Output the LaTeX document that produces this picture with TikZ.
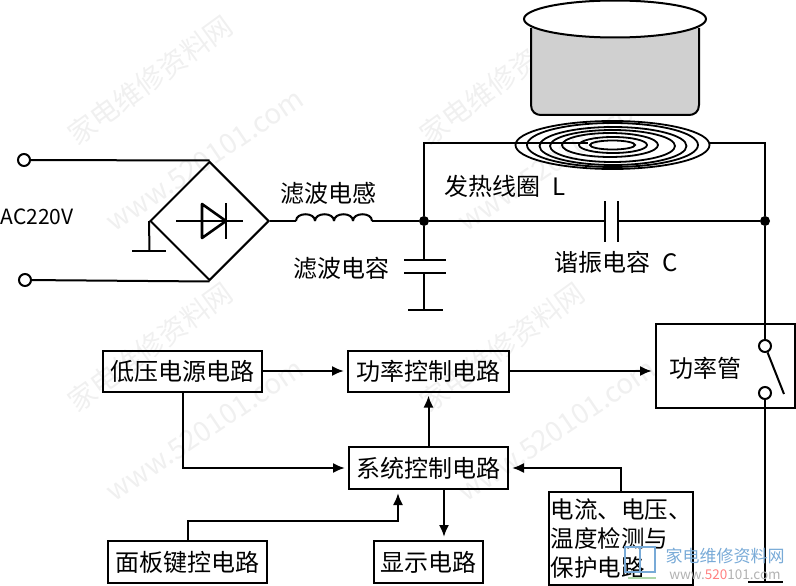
\documentclass[tikz,border=0pt]{standalone}
\usepackage{fontspec}
\setmainfont{Noto Sans CJK SC}
\usetikzlibrary{arrows.meta,shapes.geometric}

\definecolor{potgray}{RGB}{208,208,208}
\definecolor{markgray}{RGB}{240,240,240}
\definecolor{logoblue}{RGB}{120,170,215}
\definecolor{logogreen}{RGB}{175,215,170}

\tikzset{
    wire/.style={line width=2pt, line join=miter},
    flow/.style={wire, -{Latex[length=12pt,width=10pt]}, shorten >=3pt},
    blockbox/.style={draw, line width=2pt, inner sep=0pt, font=\blocktext},
    term/.style={circle, draw, line width=2pt, fill=white, inner sep=0pt, minimum size=12pt},
    dot/.style={circle, fill=black, inner sep=0pt, minimum size=10pt},
    lbl/.style={inner sep=0pt, font=\blocktext}
}
\newcommand{\blocktext}{\fontsize{24}{29}\selectfont}

\begin{document}
\begin{tikzpicture}[x=1pt, y=-1pt]
\useasboundingbox (0,0) rectangle (796,586);

% faint site marks behind the drawing
\foreach \c in {0,1} {
    \foreach \r in {0,1} {
        \node[rotate=36, text=markgray, inner sep=0pt, font=\fontsize{28}{28}\selectfont] (markcn\c\r) at ({150+352*\c},{80+267*\r}) {家电维修资料网};
        \node[rotate=34, text=markgray, inner sep=0pt, font=\fontsize{28}{28}\selectfont] (markweb\c\r) at ({205+352*\c},{160+270*\r}) {www.520101.com};
    }
}

% pot
\fill[potgray] (531,28) -- (531,105) .. controls (531,112) and (536,115) .. (541,115)
    -- (689,115) .. controls (694,115) and (699,112) .. (699,105) -- (699,28) -- cycle;
\draw[wire] (531,28) -- (531,105) .. controls (531,112) and (536,115) .. (541,115)
    -- (689,115) .. controls (694,115) and (699,112) .. (699,105) -- (699,28);
\draw[wire, fill=white] (615,19) ellipse [x radius=91, y radius=18.5];

% heating coil
\coordinate (coilin) at (588,143);
\coordinate (coilout) at (710,143);
\draw[line width=1.8pt] (612.5,145) ellipse [x radius=97, y radius=24];
\draw[line width=1.8pt] (612.5,145) ellipse [x radius=85.5, y radius=22];
\draw[line width=1.8pt] (613,146) ellipse [x radius=73.5, y radius=19];
\draw[line width=1.8pt] (612.5,146) ellipse [x radius=62.5, y radius=16];
\draw[line width=1.8pt] (610,145) ellipse [x radius=48, y radius=12];
\draw[line width=1.8pt] (613,145) ellipse [x radius=34, y radius=8];
\draw[line width=1.8pt] (612.5,145) ellipse [x radius=22.5, y radius=4.5];

% mains and bridge
\node[term] (acup) at (24,160) {};
\node[term] (acdown) at (25,280) {};
\node[lbl, font=\fontsize{21}{21}\selectfont] (aclabel) at (37,217) {AC220V};
\node[diamond, draw, line width=2pt, inner sep=0pt, minimum width=119pt, minimum height=119pt, aspect=1] (bridge) at (209.5,221) {};
\draw[wire] (acup) -- (bridge.north);
\draw[wire] (acdown) -- (bridge.south);

% diode inside the bridge
\coordinate (diodein) at (176,221);
\coordinate (diodeout) at (243,221);
\draw[line width=2.6pt] (diodein) -- (diodeout);
\draw[line width=2.6pt, line join=round] (202,204) -- (226,221) -- (202,238) -- cycle;
\draw[line width=2.6pt] (226,203) -- (226,239);

% earth of the bridge
\coordinate (bridgegnd) at (149.5,251);
\draw[wire] (bridge.west) -- (bridgegnd);
\draw[line width=2.6pt] (132,251) -- (166,251);

% inductor
\node[dot] (nodeleft) at (424,221) {};
\node[dot] (noderight) at (765,221) {};
\coordinate (indin) at (296,221);
\coordinate (indout) at (372,221);
\draw[wire] (bridge.east) -- (indin);
\foreach \i in {0,1,2,3} {
    \draw[wire] ({296+19*\i},221) .. controls ({296+19*\i},212) and ({315+19*\i},212) .. ({315+19*\i},221);
}
\draw[wire] (indout) -- (nodeleft);
\node[lbl] (indlabel) at (328,193) {滤波电感};

% filter capacitor
\coordinate (filterup) at (424,260);
\coordinate (filterdown) at (424,273);
\coordinate (filtergnd) at (424,310);
\draw[wire] (nodeleft) -- (filterup);
\draw[line width=2.6pt] (404,260) -- (446,260);
\draw[line width=2.6pt] (404,273) -- (446,273);
\draw[wire] (filterdown) -- (filtergnd);
\draw[line width=2.6pt] (408,310) -- (443,310);
\node[lbl] (filterlabel) at (341,268) {滤波电容};

% resonant capacitor
\coordinate (resleft) at (605,221);
\coordinate (resright) at (618,221);
\draw[wire] (nodeleft) -- (resleft);
\draw[wire] (resright) -- (noderight);
\draw[line width=2.6pt] (605,201) -- (605,242);
\draw[line width=2.6pt] (618,201) -- (618,242);
\node[lbl] (reslabel) at (616,262) {谐振电容\hspace{7pt} C};

% coil feeds
\draw[wire] (nodeleft) |- (coilin);
\draw[wire] (coilout) -| (noderight);
\node[lbl] (coillabel) at (505,186) {发热线圈\hspace{7pt} L};

% power tube and its switch
\node[blockbox, minimum width=139pt, minimum height=84pt] (tube) at (725.5,366) {};
\node[lbl] (tubelabel) at (705,368) {功率管};
\node[term] (swup) at (765,346) {};
\node[term] (swdown) at (765,393) {};
\coordinate (swend) at (784,394);
\coordinate (tubegnd) at (765,582);
\draw[wire] (noderight) -- (swup);
\draw[wire] (swup) -- (swend);
\draw[wire] (swdown) -- (tubegnd);
\draw[line width=2.6pt] (748,582) -- (783,582);

% control blocks
\node[blockbox, minimum width=159pt, minimum height=41pt] (lowsupply) at (182.5,371) {低压电源电路};
\node[blockbox, minimum width=161pt, minimum height=41pt] (powerctrl) at (428.5,371) {功率控制电路};
\node[blockbox, minimum width=159pt, minimum height=42pt] (sysctrl) at (428.5,468) {系统控制电路};
\node[blockbox, minimum width=159pt, minimum height=42pt] (panel) at (187.5,562) {面板键控电路};
\node[blockbox, minimum width=109pt, minimum height=42pt] (display) at (428.5,562) {显示电路};
\node[blockbox, minimum width=144pt, minimum height=93pt, align=left, font=\fontsize{23.5}{29}\selectfont] (sense) at (621,538.5) {电流、电压、\\温度检测与\\保护电路};

\draw[flow] (lowsupply) -- (powerctrl);
\draw[flow] (powerctrl) -- (tube.west |- powerctrl);
\draw[flow] (sysctrl) -- (powerctrl);
\draw[flow] (lowsupply) |- (sysctrl);
\draw[flow] ([xshift=15.5pt]sysctrl.south) -- ([xshift=15.5pt]sysctrl.south |- display.north);
\draw[flow] (panel.north) |- (398,521) -- ([xshift=-30.5pt]sysctrl.south);
\draw[flow] (sense.north) |- (sysctrl.east);

% logo in the corner
\draw[logoblue, line width=1.5pt] (625,547) rectangle (655,572);
\draw[logoblue, line width=1.5pt] (640,547) -- (640,572);
\draw[logogreen, line width=1.5pt] (628,578) -- (656,578);
\node[text=logoblue, inner sep=0pt, font=\fontsize{17}{17}\selectfont] (logocn) at (725,556) {家电维修资料网};
\node[text=gray!60, inner sep=0pt, font=\fontsize{13.5}{13.5}\selectfont] (logoweb) at (725,575) {www.\textcolor{red!50}{520}101.com};

\end{tikzpicture}
\end{document}
